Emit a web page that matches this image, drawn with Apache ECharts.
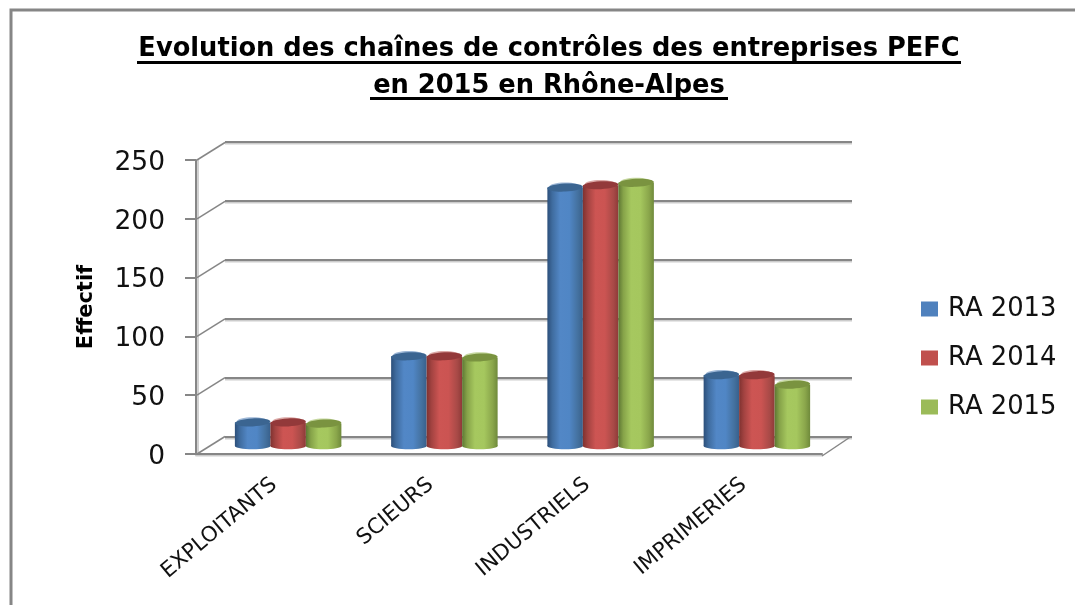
<!DOCTYPE html>
<html><head><meta charset="utf-8">
<style>html,body{margin:0;padding:0;background:#fff}#c{width:1075px;height:605px}</style>
<script src="https://cdn.jsdelivr.net/npm/echarts@6/dist/echarts.min.js"></script>
</head><body><div id="c"></div>
<script>
const titleLines = ['Evolution des chaînes de contrôles des entreprises PEFC', 'en 2015 en Rhône-Alpes'];
const categories = ['EXPLOITANTS', 'SCIEURS', 'INDUSTRIELS', 'IMPRIMERIES'];
const ra2013 = [20, 76, 219, 60];
const ra2014 = [20, 76, 221, 60];
const ra2015 = [19, 75, 223, 52];
const yTicks = [0, 50, 100, 150, 200, 250];
const seriesNames = ['RA 2013', 'RA 2014', 'RA 2015'];
const seriesValues = [ra2013, ra2014, ra2015];

const FONT = '"DejaVu Sans"';
const GREY = '#868686';
const palette = [
  {base:'#4f81bd', top:'#3b6591', rim:'#9db7d6', stops:['#2c4f7a','#3f6c9f','#5287c6','#5086c5','#44719f','#38608c']},
  {base:'#c0504d', top:'#93393a', rim:'#dba8a6', stops:['#7f3230','#a34341','#cd5553','#cb5452','#a84a47','#8e3a38']},
  {base:'#9bbb59', top:'#7a9340', rim:'#c6d8a0', stops:['#5d7733','#86a349','#a6c85f','#a5c75e','#8aa64b','#6f8a3b']}
];
const depth = {dx: 29, dy: -17.5};
const barW = 35.5, ry = 4;

function cylinder(idx) {
  return function (params, api) {
    const cat = api.value(0), val = api.value(1);
    const top = api.coord([cat, val]), bot = api.coord([cat, 0]);
    const cx = top[0] + (idx - 1) * barW, rx = barW / 2;
    const p = palette[idx];
    const fill = new echarts.graphic.LinearGradient(0, 0, 1, 0, [
      {offset:0, color:p.stops[0]}, {offset:.14, color:p.stops[1]}, {offset:.36, color:p.stops[2]},
      {offset:.62, color:p.stops[3]}, {offset:.86, color:p.stops[4]}, {offset:1, color:p.stops[5]}
    ]);
    const rot = 0.05;
    return {type:'group', children:[
      {type:'ellipse', shape:{cx:cx, cy:top[1]-1.2, rx:rx-2, ry:ry}, style:{fill:p.rim}},
      {type:'ellipse', shape:{cx:cx, cy:bot[1], rx:rx, ry:3.2}, style:{fill:fill}},
      {type:'rect', shape:{x:cx-rx, y:top[1], width:barW, height:bot[1]-top[1]}, style:{fill:fill}},
      {type:'ellipse', shape:{cx:cx, cy:top[1], rx:rx, ry:ry}, style:{fill:p.top},
        originX:cx, originY:top[1], rotation:rot}
    ]};
  };
}

function wallDiagonals(params, api) {
  const a = api.coord([0, api.value(0)]);
  const x0 = params.coordSys.x;
  return {type:'line', shape:{x1:x0+1, y1:a[1], x2:x0+depth.dx, y2:a[1]+depth.dy},
    style:{stroke:GREY, lineWidth:1.5}};
}
function floorEdge(params) {
  const c = params.coordSys;
  return {type:'line', shape:{x1:c.x+c.width, y1:c.y+c.height+2, x2:c.x+c.width+depth.dx, y2:c.y+c.height+depth.dy},
    style:{stroke:GREY, lineWidth:1.5}};
}

const hiddenCat = i => ({type:'category', gridIndex:i, data:categories, show:false});
const chart = echarts.init(document.getElementById('c'), null, {renderer:'canvas'});
const option = {
  backgroundColor:'#fff',
  animation:false,
  title:{text:titleLines.join('\n'), left:544, top:26, textAlign:'center',
    textStyle:{fontFamily:FONT, fontWeight:'bold', fontSize:25.7, lineHeight:37, color:'#000'}},
  legend:{left:916, top:291, orient:'vertical', itemWidth:17, itemHeight:15, itemGap:23, icon:'rect',
    data:seriesNames, textStyle:{fontFamily:FONT, fontSize:25.8, color:'#111', padding:[0,0,0,5]}},
  grid:[
    {left:196, top:160, width:626, height:294, containLabel:false},
    {left:225, top:142, width:627, height:295},
    {left:210, top:151, width:625, height:295}
  ],
  xAxis:[
    {type:'category', gridIndex:0, data:categories, offset:2,
      axisLine:{lineStyle:{color:GREY, width:2, shadowColor:'rgba(0,0,0,0.2)', shadowOffsetY:1.5}},
      axisTick:{show:false},
      axisLabel:{rotate:40, interval:0, margin:26, fontFamily:FONT, fontSize:21.3, color:'#111'}},
    hiddenCat(1), hiddenCat(2)
  ],
  yAxis:[
    {type:'value', gridIndex:0, min:0, max:250, interval:50,
      name:'Effectif', nameLocation:'middle', nameGap:99, nameRotate:90,
      nameTextStyle:{fontFamily:FONT, fontWeight:'bold', fontSize:21, color:'#000'},
      axisLine:{show:true, lineStyle:{color:GREY, width:2, shadowColor:'rgba(0,0,0,0.18)', shadowOffsetX:2}},
      axisTick:{show:true, length:11, lineStyle:{color:GREY, width:2}},
      axisLabel:{margin:31, fontFamily:FONT, fontSize:26.5, color:'#111', verticalAlign:'top', lineHeight:6},
      splitLine:{show:false}},
    {type:'value', gridIndex:1, min:0, max:250, interval:50,
      axisLine:{show:false}, axisTick:{show:false}, axisLabel:{show:false},
      splitLine:{show:true, lineStyle:{color:GREY, width:2, shadowColor:'rgba(0,0,0,0.2)', shadowOffsetY:1.5}}},
    {type:'value', gridIndex:2, min:0, max:250, interval:50, show:false, splitLine:{show:false}}
  ],
  series:[
    {type:'custom', xAxisIndex:0, yAxisIndex:0, data:yTicks.map(v=>[v]), renderItem:wallDiagonals, encode:{y:0}, silent:true, z:1},
    {type:'custom', xAxisIndex:0, yAxisIndex:0, data:[[0]], renderItem:floorEdge, encode:{y:0}, silent:true, z:1},
    ...seriesNames.map((name,i)=>({
      type:'custom', name, xAxisIndex:2, yAxisIndex:2, z:3+i,
      itemStyle:{color:palette[i].base},
      data:seriesValues[i].map((v,c)=>[c,v]), encode:{x:0,y:1},
      renderItem:cylinder(i)
    }))
  ],
  graphic:[
    {type:'polyline', shape:{points:[[11,605],[11,10],[1075,10]]}, style:{stroke:GREY, fill:null, lineWidth:3}},
    {type:'rect', shape:{x:137, y:61, width:824, height:3}, style:{fill:'#000'}},
    {type:'rect', shape:{x:370, y:97, width:358, height:3}, style:{fill:'#000'}}
  ]
};
chart.setOption(option);
</script></body></html>
